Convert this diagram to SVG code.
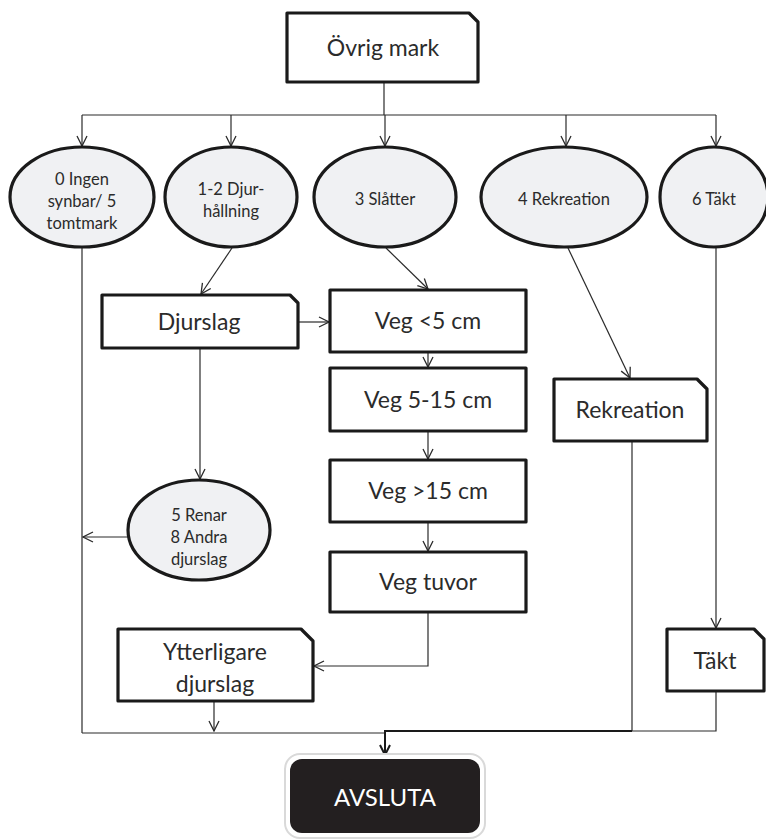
<svg xmlns="http://www.w3.org/2000/svg" width="766" height="840" viewBox="0 0 766 840">
<style>
.box{fill:#fff;stroke:#1a1a1a;stroke-width:3.2;stroke-linejoin:round}
.ell{fill:#f0f1f3;stroke:#1a1a1a;stroke-width:3.2}
.t{font-family:Lato,"Open Sans",sans-serif;font-size:23px;fill:#2b2b2b;text-anchor:middle}
.s{font-family:Lato,"Open Sans",sans-serif;font-size:16.5px;fill:#2b2b2b;text-anchor:middle}
.c{fill:none;stroke:#2a2a2a;stroke-width:1.2}
.ca{fill:none;stroke:#2a2a2a;stroke-width:1.2;marker-end:url(#arr)}
.ck{fill:none;stroke:#1a1a1a;stroke-width:2}
</style>
<defs>
<marker id="arr" viewBox="0 0 12 12" refX="11" refY="6" markerWidth="12" markerHeight="12" markerUnits="userSpaceOnUse" orient="auto">
<path d="M1,1 L11,6 L1,11" fill="none" stroke="#2a2a2a" stroke-width="1.3"/>
</marker>
<marker id="arrk" viewBox="0 0 12 12" refX="11" refY="6" markerWidth="12" markerHeight="12" markerUnits="userSpaceOnUse" orient="auto">
<path d="M1,1 L11,6 L1,11" fill="none" stroke="#1a1a1a" stroke-width="2"/>
</marker>
</defs>
<g id="connectors">
<path class="c" d="M384,82 V115"/>
<path class="c" d="M82,115 H716"/>
<path class="ca" d="M82,115 V146"/>
<path class="ca" d="M231,115 V146"/>
<path class="ca" d="M385,115 V146"/>
<path class="ca" d="M566,115 V146"/>
<path class="ca" d="M716,115 V146"/>
<path class="c" d="M82,247 V733"/>
<path class="ca" d="M232,248 L201,294"/>
<path class="ca" d="M386,248 L428,289"/>
<path class="ca" d="M568,248 L630,378"/>
<path class="ca" d="M716,248 V628"/>
<path class="ca" d="M298,322 H329"/>
<path class="ca" d="M200,348 V479"/>
<path class="ca" d="M128,537 H83"/>
<path class="ca" d="M428,352 V367"/>
<path class="ca" d="M428,431 V459"/>
<path class="ca" d="M428,522 V551"/>
<path class="ca" d="M428,612 V666 H314"/>
<path class="ca" d="M214,701 V731"/>
<path class="c" d="M82,733 H385"/>
<path class="c" d="M632,441 V731"/>
<path class="c" d="M716,691 V731 H632"/>
<path class="ck" d="M632,731 H385 V755" marker-end="url(#arrk)"/>
</g>
<g id="ovrig-mark">
<path class="box" d="M287,13 H469 L478,22 V82 H287 Z"/>
<text class="t" x="383" y="56">Övrig mark</text>
</g>
<g id="e0">
<ellipse class="ell" cx="82" cy="197" rx="72" ry="50"/>
<text class="s" x="82" y="185">0 Ingen</text>
<text class="s" x="82" y="207">synbar/ 5</text>
<text class="s" x="82" y="229">tomtmark</text>
</g>
<g id="e1">
<ellipse class="ell" cx="231" cy="197" rx="66" ry="50"/>
<text class="s" x="231" y="195">1-2 Djur-</text>
<text class="s" x="231" y="217">hållning</text>
</g>
<g id="e2">
<ellipse class="ell" cx="385" cy="197" rx="71" ry="50"/>
<text class="s" x="385" y="205">3 Slåtter</text>
</g>
<g id="e3">
<ellipse class="ell" cx="564" cy="197" rx="83" ry="50"/>
<text class="s" x="564" y="205">4 Rekreation</text>
</g>
<g id="e4">
<ellipse class="ell" cx="714" cy="197" rx="54" ry="50"/>
<text class="s" x="714" y="205">6 Täkt</text>
</g>
<g id="djurslag">
<path class="box" d="M102,295 H290 L298,303 V348 H102 Z"/>
<text class="t" x="199" y="330">Djurslag</text>
</g>
<g id="veg5">
<rect class="box" x="330" y="290" width="196" height="62"/>
<text class="t" x="428" y="329">Veg &lt;5 cm</text>
</g>
<g id="veg515">
<rect class="box" x="330" y="368" width="196" height="63"/>
<text class="t" x="428" y="408">Veg 5-15 cm</text>
</g>
<g id="veg15">
<rect class="box" x="330" y="460" width="196" height="62"/>
<text class="t" x="428" y="499">Veg &gt;15 cm</text>
</g>
<g id="vegtuvor">
<rect class="box" x="330" y="552" width="196" height="60"/>
<text class="t" x="428" y="590">Veg tuvor</text>
</g>
<g id="renar">
<ellipse class="ell" cx="199" cy="530" rx="71" ry="50"/>
<text class="s" x="199" y="521">5 Renar</text>
<text class="s" x="199" y="543">8 Andra</text>
<text class="s" x="199" y="565">djurslag</text>
</g>
<g id="rekreation">
<path class="box" d="M554,379 H697 L707,389 V441 H554 Z"/>
<text class="t" x="630" y="418">Rekreation</text>
</g>
<g id="ytterligare">
<path class="box" d="M118,629 H301 L313,641 V701 H118 Z"/>
<text class="t" x="215" y="660">Ytterligare</text>
<text class="t" x="215" y="692">djurslag</text>
</g>
<g id="takt">
<path class="box" d="M667,629 H754 L764,639 V691 H667 Z"/>
<text class="t" x="715" y="669">Täkt</text>
</g>
<g id="avsluta">
<rect x="285" y="754" width="200" height="84" rx="15" fill="#fff" stroke="#d9d9d9" stroke-width="2"/>
<rect x="290" y="759" width="190" height="74" rx="12" fill="#231f20"/>
<text x="385" y="806" font-family="Lato,'Open Sans',sans-serif" font-size="24" fill="#fff" text-anchor="middle">AVSLUTA</text>
</g>
</svg>
